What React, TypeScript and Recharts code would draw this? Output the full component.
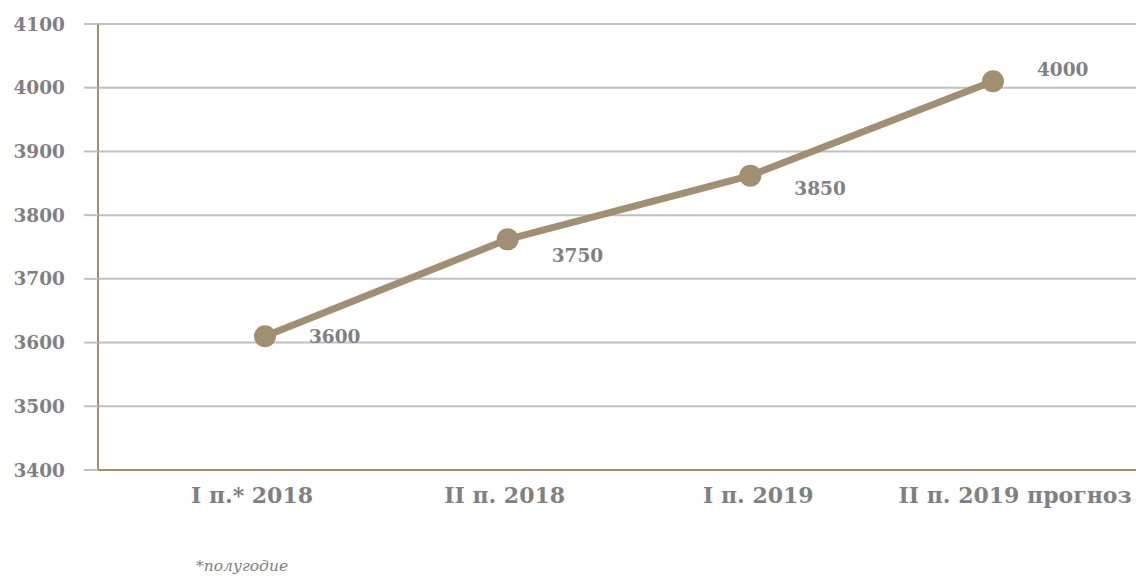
import React from 'react';
import { LineChart, Line, XAxis, YAxis, CartesianGrid, LabelList } from 'recharts';

const categories = ['I п.* 2018', 'II п. 2018', 'I п. 2019', 'II п. 2019 прогноз'];
// where the points sit on the picture
const values = [3610, 3762, 3862, 4010];
// the labels printed next to them
const valueLabels = ['3600', '3750', '3850', '4000'];
const yTicks = [3400, 3500, 3600, 3700, 3800, 3900, 4000, 4100];

const data = categories.map((name, i) => ({ name, value: values[i], label: valueLabels[i] }));

const TAN = '#a08f70';
const GRAY = '#7f8084';
const FONT = '"DejaVu Serif", serif';

// label nudges, per point
const labelDy = [0, 16, 13, -12];
// x tick labels are not quite centred under the points in the original
const tickDx = [-13, -3, 8, 22];

const PointLabel = (props: any) => {
  const { x, y, index } = props;
  return (
    <text
      x={x + 44}
      y={y + labelDy[index]}
      dy="0.35em"
      fill={GRAY}
      fontFamily={FONT}
      fontWeight="bold"
      fontSize={18.5}
      textAnchor="start"
    >
      {valueLabels[index]}
    </text>
  );
};

const CatTick = (props: any) => {
  const { x, y, payload, index } = props;
  return (
    <text
      x={x + tickDx[index]}
      y={y}
      dy="0.71em"
      fill={GRAY}
      fontFamily={FONT}
      fontWeight="bold"
      fontSize={22}
      textAnchor="middle"
    >
      {payload.value}
    </text>
  );
};

export default function App() {
  return (
    <div style={{ position: 'relative', width: 1136, height: 577 }}>
      <style>{`body{margin:0}`}</style>
      <LineChart width={1136} height={577} data={data} margin={{ top: 24, right: 0, bottom: 0, left: 0 }}>
        <CartesianGrid horizontal vertical={false} stroke="#c0c0c0" strokeWidth={2} />
        <XAxis
          dataKey="name"
          height={107}
          padding={{ left: 167, right: 143 }}
          axisLine={{ stroke: TAN, strokeWidth: 2 }}
          tickLine={false}
          tickSize={0}
          tickMargin={17}
          tick={CatTick}
          interval={0}
        />
        <YAxis
          width={98}
          domain={[3400, 4100]}
          ticks={yTicks}
          axisLine={{ stroke: TAN, strokeWidth: 2 }}
          tickLine={{ stroke: '#c0c0c0', strokeWidth: 2 }}
          tickSize={14}
          tickMargin={19}
          tick={{ fill: GRAY, fontFamily: FONT, fontWeight: 'bold', fontSize: 18.5 }}
        />
        <Line
          type="linear"
          dataKey="value"
          stroke={TAN}
          strokeWidth={7}
          dot={{ r: 11, fill: TAN, stroke: 'none' }}
          activeDot={false}
          isAnimationActive={false}
        >
          <LabelList dataKey="label" content={PointLabel} />
        </Line>
      </LineChart>
      <div
        style={{
          position: 'absolute',
          left: 196,
          top: 557,
          fontFamily: FONT,
          fontStyle: 'italic',
          fontSize: 15.5,
          color: GRAY,
        }}
      >
        *полугодие
      </div>
    </div>
  );
}
